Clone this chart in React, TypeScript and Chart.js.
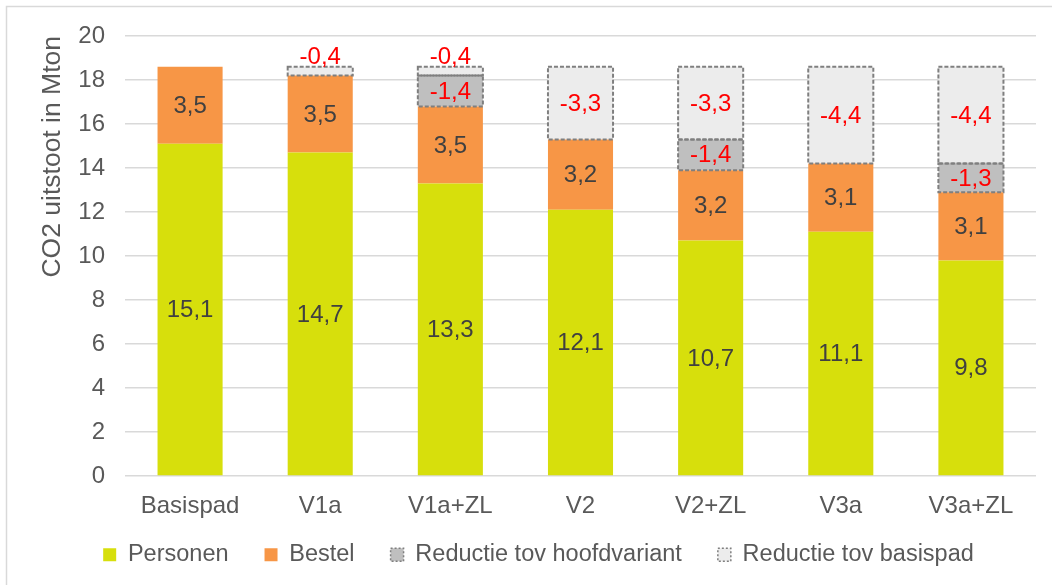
import React, { useEffect, useRef } from 'react';
import { Chart, registerables } from 'chart.js';

Chart.register(...registerables);

// ---- data ----
const categories = ['Basispad', 'V1a', 'V1a+ZL', 'V2', 'V2+ZL', 'V3a', 'V3a+ZL'];
const personen = [15.1, 14.7, 13.3, 12.1, 10.7, 11.1, 9.8];
const bestel = [3.5, 3.5, 3.5, 3.2, 3.2, 3.1, 3.1];
const reductieHoofdvariant = [null, null, -1.4, null, -1.4, null, -1.3];
const reductieBasispad = [null, -0.4, -0.4, -3.3, -3.3, -4.4, -4.4];
const yMin = 0;
const yMax = 20;
const yStep = 2;
const yTitle = 'CO2 uitstoot in Mton';
const seriesNames = ['Personen', 'Bestel', 'Reductie tov hoofdvariant', 'Reductie tov basispad'];

const FONT = "'Liberation Sans', Arial, sans-serif";
const TEXT = '#595959';

const fmt = (v: number) => v.toFixed(1).replace('.', ',');

export default function App() {
  const ref = useRef<HTMLCanvasElement>(null);

  useEffect(() => {
    if (!ref.current) return;

    const framePlugin = {
      id: 'frame',
      afterLayout(chart: any) {
        const lg = chart.legend;
        if (lg) {
          lg.top -= 17;
          lg.bottom -= 17;
        }
      },
      beforeDraw(chart: any) {
        const ctx = chart.ctx;
        ctx.save();
        ctx.fillStyle = '#ffffff';
        ctx.fillRect(0, 0, chart.width, chart.height);
        ctx.strokeStyle = '#d9d9d9';
        ctx.lineWidth = 1.5;
        ctx.strokeRect(6.5, 6.5, chart.width + 40, chart.height + 40);
        ctx.restore();
      },
    };

    const labelPlugin = {
      id: 'barLabels',
      afterDatasetsDraw(chart: any) {
        const ctx = chart.ctx;
        ctx.save();
        // dashed borders for reduction segments
        [2, 3].forEach((di) => {
          const meta = chart.getDatasetMeta(di);
          meta.data.forEach((el: any, i: number) => {
            const raw = chart.data.datasets[di].data[i];
            if (raw == null) return;
            const p = el.getProps(['x', 'y', 'base', 'width'], true);
            const top = Math.min(p.y, p.base);
            const h = Math.abs(p.base - p.y);
            ctx.setLineDash([4, 2]);
            ctx.strokeStyle = '#7f7f7f';
            ctx.lineWidth = 2;
            ctx.strokeRect(p.x - p.width / 2, top, p.width, h);
          });
        });
        ctx.setLineDash([]);
        ctx.font = `24px ${FONT}`;
        ctx.textAlign = 'center';
        ctx.textBaseline = 'middle';
        chart.data.datasets.forEach((ds: any, di: number) => {
          const meta = chart.getDatasetMeta(di);
          meta.data.forEach((el: any, i: number) => {
            const raw = ds.data[i];
            if (raw == null) return;
            const p = el.getProps(['x', 'y', 'base'], true);
            const h = Math.abs(p.base - p.y);
            let value: number;
            if (di === 0) value = personen[i] as number;
            else if (di === 1) value = bestel[i] as number;
            else if (di === 2) value = reductieHoofdvariant[i] as number;
            else value = reductieBasispad[i] as number;
            ctx.fillStyle = di >= 2 ? '#ff0000' : '#404040';
            let y = (p.y + p.base) / 2;
            if (h < 20) y = Math.min(p.y, p.base) - 10;
            ctx.fillText(fmt(value), p.x, y + 1);
          });
        });
        ctx.restore();
      },
    };

    const chart = new Chart(ref.current, {
      type: 'bar',
      data: {
        labels: categories,
        datasets: [
          { label: seriesNames[0], data: personen, backgroundColor: '#d7df0c', borderWidth: 0 },
          { label: seriesNames[1], data: bestel, backgroundColor: '#f79646', borderWidth: 0 },
          {
            label: seriesNames[2],
            data: reductieHoofdvariant.map((v) => (v == null ? null : -v)),
            backgroundColor: '#bfbfbf',
            borderWidth: 0,
          },
          {
            label: seriesNames[3],
            data: reductieBasispad.map((v) => (v == null ? null : -v)),
            backgroundColor: '#ececec',
            borderWidth: 0,
          },
        ],
      },
      options: {
        animation: false,
        responsive: true,
        maintainAspectRatio: false,
        layout: { padding: { left: 41, right: 16, top: 36, bottom: -8.5 } },
        datasets: { bar: { categoryPercentage: 1, barPercentage: 0.5 } },
        plugins: {
          tooltip: { enabled: false },
          title: { display: false },
          legend: {
            position: 'bottom',
            labels: {
              color: TEXT,
              font: { family: FONT, size: 23.5 },
              boxWidth: 13,
              boxHeight: 13,
              padding: 36,
              generateLabels(chart: any) {
                const items = Chart.defaults.plugins.legend.labels.generateLabels(chart);
                items.forEach((it: any, i: number) => {
                  if (i >= 2) {
                    it.strokeStyle = '#7f7f7f';
                    it.lineWidth = 1.5;
                    it.lineDash = [2, 2];
                  } else {
                    it.lineWidth = 0;
                  }
                });
                return items;
              },
            },
          },
        },
        scales: {
          x: {
            stacked: true,
            grid: { display: false },
            border: { display: false },
            ticks: { color: TEXT, font: { family: FONT, size: 24 }, padding: 8 },
            afterFit(s: any) {
              s.height = 48;
            },
          },
          y: {
            stacked: true,
            min: yMin,
            max: yMax,
            ticks: { stepSize: yStep, color: TEXT, font: { family: FONT, size: 24 }, padding: 20 },
            grid: { color: '#d9d9d9', lineWidth: 1.5, drawTicks: false },
            border: { display: false },
            title: {
              display: true,
              text: yTitle,
              color: TEXT,
              align: 'end',
              font: { family: FONT, size: 26.5, lineHeight: 1 },
              padding: { top: -2, bottom: 0 },
            },
            afterFit(s: any) {
              s.width = 84;
            },
          },
        },
      },
      plugins: [framePlugin, labelPlugin],
    } as any);

    return () => chart.destroy();
  }, []);

  return (
    <div style={{ position: 'absolute', left: 0, top: 0, width: 1052, height: 585, background: '#fff' }}>
      <canvas ref={ref} />
    </div>
  );
}
